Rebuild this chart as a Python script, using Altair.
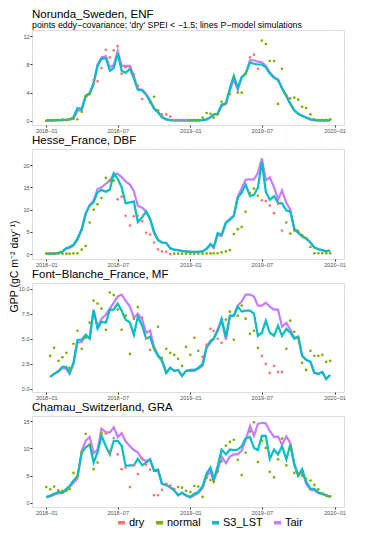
import altair as alt
import pandas as pd

# ---------------- data (dekadal: 1st, 11th, 21st of each month) ----------------
MONTHS = [f"{y}-{m:02d}" for y in (2018, 2019) for m in range(1, 13)]
DAYS = ["01", "11", "21"]
DATES = [f"{mo}-{d}T00:00:00" for mo in MONTHS for d in DAYS]

SERIES = ["dry", "normal", "S3_LST", "Tair"]
COLORS = ["#F8766D", "#7CAE00", "#00BFC4", "#C77CFF"]

# Norunda_Sweden, ENF
nor_obs = [0.0, 0.0, 0.1, 0.1, 0.2, 0.1, 0.2, 0.3, 0.2, 1.3, 3.5, 3.8,
           5.8, 5.6, 7.5, 10.1, 9.0, 10.0, 10.6, 6.7, 7.6, 7.6, 6.6, 5.0,
           3.1, 3.7, 2.6, 3.4, 1.5, 0.9, 0.9, 0.6, 0.1, 0.1, 0.1, 0.1,
           0.1, 0.1, 0.1, 0.45, 1.1, 1.0, 0.45, 0.9, 2.7, 2.5, 3.8, 6.0,
           4.0, 4.0, 6.7, 9.0, 9.4, 7.4, 11.4, 10.9, 8.5, 8.5, 2.4, 7.4,
           3.6, 3.2, 3.3, 3.0, 2.0, 1.8, 0.9, 0.2, 0.1, 0.1, 0.1, 0.2]
nor_cls = "nnnnnnnnnnnn" "dddddddddddddd" "nnn" "ddddddd" "nnnnnnnnnnnnnnn" "ddd" "nnnnnnnnnnnnnnnnnn"
nor_s3 = [0.05, 0.05, 0.05, 0.1, 0.1, 0.15, 0.2, 0.5, 1.8, 1.7, 3.6, 3.9,
          5.4, 7.8, 8.8, 8.9, 7.1, 7.5, 9.6, 7.1, 6.8, 7.4, 6.0, 4.4,
          4.3, 3.7, 2.8, 1.7, 1.2, 0.5, 0.2, 0.1, 0.05, 0.05, 0.05, 0.05,
          0.05, 0.05, 0.05, 0.1, 0.2, 0.5, 0.9, 1.0, 2.3, 2.5, 4.6, 6.4,
          4.7, 6.2, 6.7, 8.3, 8.1, 8.0, 8.0, 7.6, 6.7, 6.1, 5.8, 4.6,
          3.5, 2.4, 1.5, 1.0, 0.7, 0.45, 0.2, 0.1, 0.05, 0.05, 0.05, 0.05]
nor_tair = [0.05, 0.05, 0.05, 0.1, 0.1, 0.15, 0.2, 0.3, 1.4, 1.6, 3.4, 3.8,
            5.2, 8.0, 9.0, 9.2, 7.6, 7.9, 9.9, 7.8, 7.8, 7.8, 6.3, 4.5,
            4.4, 3.8, 2.9, 1.8, 1.3, 0.6, 0.2, 0.1, 0.05, 0.05, 0.05, 0.05,
            0.05, 0.05, 0.05, 0.1, 0.2, 0.5, 0.9, 1.0, 2.1, 2.4, 4.3, 5.9,
            4.4, 6.2, 6.7, 8.6, 8.6, 8.4, 8.3, 7.8, 6.9, 6.2, 5.9, 4.7,
            3.6, 2.5, 1.5, 1.0, 0.7, 0.45, 0.2, 0.1, 0.05, 0.05, 0.05, 0.05]

# Hesse_France, DBF
hes_obs = [0.1, 0.1, 0.1, 0.1, 0.1, 0.1, 0.1, 0.15, 0.15, 1.0, 1.8, 7.1,
           10.0, 11.2, 12.6, 17.1, 16.5, 16.5, 12.3, 12.9, 8.6, 6.4, 8.5, 8.6,
           7.4, 4.8, 4.4, 2.6, 1.1, 0.6, 0.5, 0.0, 0.1, 0.1, 0.1, 0.1,
           0.1, 0.1, 0.1, 0.1, 0.15, 0.15, 0.2, 0.2, 0.4, 0.6, 0.9, 4.5,
           5.6, 6.1, 9.5, 13.7, 14.7, 13.1, 12.1, 11.9, 10.9, 9.2, 11.3, 5.3,
           7.1, 4.6, 5.3, 5.2, 4.3, 3.6, 1.6, 0.2, 0.2, 0.2, 0.2, 0.2]
hes_cls = "nnnnnnnnnnnnnnnnnn" "dddddddddddddd" "nnnnnnnnnnnnnnnnnnnnnn" "dddddd" "nnnnnnnnnnnn"
hes_s3 = [0.1, 0.1, 0.1, 0.3, 0.6, 1.4, 1.6, 2.1, 3.5, 5.7, 9.2, 10.9,
          11.6, 13.9, 14.4, 14.0, 14.5, 18.1, 16.9, 15.0, 11.4, 11.6, 11.8, 7.2,
          8.3, 9.6, 7.9, 4.9, 3.1, 2.6, 2.5, 1.3, 1.0, 0.9, 0.7, 0.6,
          0.5, 0.5, 0.5, 0.6, 1.2, 2.3, 1.6, 4.7, 4.4, 7.1, 7.7, 8.6,
          12.7, 13.8, 15.6, 13.0, 13.3, 14.9, 20.7, 14.0, 12.2, 13.0, 11.5, 11.4,
          9.8, 9.6, 5.6, 4.8, 4.0, 3.5, 2.6, 1.5, 1.1, 0.9, 0.6, 0.8]
hes_tair = [0.1, 0.1, 0.1, 0.2, 0.5, 1.2, 1.4, 1.9, 3.2, 5.4, 9.0, 11.0,
            12.0, 14.6, 15.0, 15.8, 16.5, 18.0, 18.0, 17.3, 16.3, 15.6, 14.1, 10.8,
            10.4, 9.6, 7.9, 5.0, 3.2, 2.6, 2.5, 1.3, 1.0, 0.9, 0.7, 0.6,
            0.5, 0.5, 0.5, 0.6, 1.1, 2.1, 1.4, 4.3, 4.1, 7.0, 7.9, 8.6,
            12.9, 14.8, 16.7, 16.8, 16.8, 18.2, 21.5, 16.6, 17.2, 15.0, 12.3, 14.3,
            11.5, 10.0, 5.8, 4.9, 4.0, 3.5, 2.6, 1.5, 1.1, 0.9, 0.6, 0.8]

# Font-Blanche_France, MF
fb_obs = [None, 3.3, 4.1, 2.8, 3.15, 3.6, 2.1, 4.5, 5.8, 4.0, 5.1, 6.6,
          8.8, 8.5, 8.0, 5.9, 9.6, 9.35, 7.9, 5.9, 7.3, 3.5, 7.0, 8.15,
          7.1, 5.1, 3.9, 4.1, 6.2, 3.1, 4.0, 3.6, 3.4, 3.0, 2.3, 4.2,
          3.4, 5.1, 3.8, 3.2, 4.4, 6.0, 5.8, 5.0, 4.6, 6.9, 7.7, 4.9,
          7.3, 8.3, 7.0, 5.5, 5.8, 4.1, 3.3, 2.5, 1.6, 2.3, 1.7, 1.7,
          4.0, 6.8, 5.7, 5.1, 2.6, 1.9, 3.8, 3.3, 3.3, 3.4, 2.7, 2.8]
fb_cls = "-" "nnnnnnnnnnnnnnnnnnnnnnn" "ddd" "nnnnnnnnnnnn" "dddddd" "nnnnnnnnn" "dddddd" "nnnnnnnnnnnn"
fb_s3 = [None, 1.2, 1.5, 1.8, 2.2, 2.2, 1.6, 2.6, 4.9, 4.9, 5.4, 5.0,
         7.8, 6.0, 6.7, 6.6, 7.9, 7.9, 8.5, 7.8, 6.9, 6.6, 5.4, 7.2,
         6.3, 5.0, 5.2, 4.0, 3.3, 2.8, 1.6, 2.1, 1.8, 1.9, 1.3, 1.8,
         1.9, 1.9, 2.1, 2.5, 4.2, 4.8, 5.0, 5.8, 7.0, 5.2, 7.3, 7.3,
         8.2, 7.7, 7.8, 7.8, 7.5, 5.3, 5.6, 6.8, 5.6, 5.3, 6.3, 5.3,
         6.0, 5.6, 5.0, 5.2, 3.3, 2.9, 2.7, 1.6, 1.5, 1.7, 1.0, 1.4]
fb_tair = [None, 1.2, 1.5, 1.7, 2.1, 2.0, 1.5, 2.5, 4.6, 4.7, 5.3, 5.1,
           7.9, 6.2, 7.0, 7.4, 8.0, 8.6, 9.2, 9.4, 8.8, 8.2, 7.1, 7.5,
           6.9, 5.6, 5.8, 4.2, 3.4, 2.9, 1.6, 2.1, 1.8, 1.9, 1.3, 1.8,
           1.8, 1.8, 2.0, 2.3, 4.1, 4.6, 5.0, 5.9, 6.8, 4.9, 7.2, 7.3,
           8.3, 8.7, 9.4, 9.4, 9.2, 8.3, 8.3, 8.6, 8.2, 7.9, 7.9, 6.2,
           6.6, 5.9, 5.1, 5.2, 3.3, 2.9, 2.7, 1.6, 1.5, 1.7, 1.0, 1.4]

# Chamau_Switzerland, GRA
cha_obs = [2.9, 2.5, 3.0, 2.3, 2.2, 2.2, 2.5, 5.5, 4.9, 9.3, 12.7, 10.7,
           6.2, 7.4, 12.8, 12.7, 9.5, 11.9, 8.9, 6.2, 6.5, 2.9, 6.9, 5.3,
           8.2, 7.0, 6.1, 1.4, 1.4, 2.4, 3.5, 3.2, 2.6, 2.9, 2.8, 2.2,
           2.0, 3.1, 3.0, 1.1, 4.6, 4.2, 3.9, 5.8, 7.6, 10.5, 11.2, 11.6,
           7.9, 5.1, 9.2, 13.1, 14.8, 7.5, 11.4, 10.1, 5.7, 4.7, 8.0, 11.8,
           6.9, 9.8, 5.5, 5.4, 5.0, 4.4, 4.1, 3.3, 2.5, 1.7, 1.3, 1.2]
cha_cls = "nnnnnnnnnnnnnnn" "dddddddddddddddddd" "nnnnnnnnnnnnnnnnnnnnnnnnnnnnnnnnnnnnnnn"
cha_s3 = [1.1, 1.3, 1.7, 2.0, 1.9, 2.6, 3.1, 4.1, 4.9, 9.3, 10.2, 10.7,
          7.4, 9.3, 12.3, 10.4, 8.9, 11.4, 11.4, 10.5, 6.8, 6.9, 6.9, 8.1,
          6.9, 7.4, 8.0, 5.9, 6.1, 3.5, 3.3, 2.9, 2.3, 1.4, 1.9, 1.4,
          1.1, 1.7, 2.0, 3.1, 5.4, 6.5, 4.3, 6.7, 9.8, 8.9, 9.8, 9.7,
          9.8, 10.4, 11.9, 12.1, 10.1, 9.7, 12.3, 12.3, 8.1, 9.8, 8.9, 10.4,
          8.0, 10.7, 7.1, 5.0, 6.2, 3.9, 2.6, 2.6, 1.9, 1.7, 1.4, 1.1]
cha_tair = [1.0, 1.2, 1.5, 1.8, 1.8, 2.4, 2.9, 3.7, 4.5, 9.6, 11.4, 12.1,
            9.1, 9.8, 13.6, 13.0, 12.9, 13.9, 12.1, 12.8, 11.3, 10.4, 9.7, 9.3,
            8.0, 7.7, 8.0, 5.9, 6.1, 3.5, 3.3, 2.8, 2.3, 1.4, 1.8, 1.3,
            1.0, 1.4, 1.8, 2.7, 4.9, 5.8, 4.0, 5.9, 8.5, 7.3, 8.5, 8.9,
            8.9, 9.6, 11.5, 14.1, 12.3, 14.5, 14.7, 14.6, 13.2, 12.1, 12.2, 10.7,
            12.2, 11.0, 7.2, 5.0, 5.9, 3.6, 2.4, 2.3, 1.8, 1.6, 1.4, 1.1]

X_MAJOR = [(2018, 1), (2018, 7), (2019, 1), (2019, 7), (2020, 1)]
X_MINOR = ["2018-04-01T00:00:00", "2018-10-01T00:00:00", "2019-04-01T00:00:00", "2019-10-01T00:00:00"]

PANELS = [
    dict(title="Norunda_Sweden, ENF",
         subtitle="points eddy\u2212covariance; 'dry' SPEI < \u22121.5; lines P\u2212model simulations",
         obs=nor_obs, cls=nor_cls, s3=nor_s3, tair=nor_tair,
         ydom=[-0.6, 12.9], yticks=[0, 4, 8, 12], yminor=[2, 6, 10], yfmt="d", height=95),
    dict(title="Hesse_France, DBF", subtitle=None,
         obs=hes_obs, cls=hes_cls, s3=hes_s3, tair=hes_tair,
         ydom=[-1.1, 23.6], yticks=[0, 5, 10, 15, 20], yminor=[2.5, 7.5, 12.5, 17.5, 22.5], yfmt="d", height=110),
    dict(title="Font\u2212Blanche_France, MF", subtitle=None,
         obs=fb_obs, cls=fb_cls, s3=fb_s3, tair=fb_tair,
         ydom=[-0.3, 10.55], yticks=[0, 2.5, 5, 7.5, 10], yminor=[1.25, 3.75, 6.25, 8.75], yfmt=".1f", height=109),
    dict(title="Chamau_Switzerland, GRA", subtitle=None,
         obs=cha_obs, cls=cha_cls, s3=cha_s3, tair=cha_tair,
         ydom=[-0.75, 15.95], yticks=[0, 5, 10, 15], yminor=[2.5, 7.5, 12.5], yfmt="d", height=91),
]

WIDTH = 312
SPACING = 24
FONT = "Liberation Sans"
YTITLE = "GPP (gC m\u207b\u00b2 day\u207b\u00b9)"

legend = alt.Legend(title=None, orient="none", legendX=84, legendY=101, direction="horizontal",
                    symbolType="stroke", symbolStrokeWidth=3.5, symbolSize=50,
                    labelFontSize=11, labelFont=FONT, labelColor="black",
                    columnPadding=3, labelOffset=2)

xscale = alt.Scale(domain=[alt.DateTime(year=2017, month=11, date=26),
                           alt.DateTime(year=2020, month=1, date=25)])
xaxis = alt.Axis(values=[alt.DateTime(year=y, month=m, date=1) for y, m in X_MAJOR],
                 format="%Y\u2212%m", labelFontSize=5.5, labelFont=FONT, labelColor="#4D4D4D",
                 tickColor="#333333", tickSize=2, labelPadding=1, domain=False,
                 grid=True, gridColor="white", gridWidth=0.9, title=None)


def build_panel(i, p):
    cscale = alt.Scale(domain=SERIES, range=COLORS)
    leg = legend if i == 3 else None
    pts = pd.DataFrame([
        {"date": d, "gpp": v, "series": "dry" if c == "d" else "normal"}
        for d, v, c in zip(DATES, p["obs"], p["cls"]) if v is not None
    ])
    lines = pd.DataFrame(
        [{"date": d, "gpp": v, "series": "Tair"} for d, v in zip(DATES, p["tair"]) if v is not None]
        + [{"date": d, "gpp": v, "series": "S3_LST"} for d, v in zip(DATES, p["s3"]) if v is not None]
    )
    yscale = alt.Scale(domain=p["ydom"], nice=False, zero=False)
    ax_kw = dict(values=p["yticks"], format=p["yfmt"], labelFontSize=5.5, labelFont=FONT,
                 labelColor="#4D4D4D", tickColor="#333333", tickSize=2, labelPadding=1,
                 domain=False, grid=True, gridColor="white", gridWidth=0.9)
    if i == 1:
        yaxis = alt.Axis(title=YTITLE, titleFontSize=10.5, titleFont=FONT, titleFontWeight="normal",
                         titleColor="black", titleX=-13, titleY=117, titleAlign="center",
                         titleBaseline="bottom", **ax_kw)
    else:
        yaxis = alt.Axis(title=None, **ax_kw)
    ytitle = YTITLE if i == 1 else None

    x_enc = alt.X("date:T", scale=xscale, axis=xaxis, title=None)
    y_enc = alt.Y("gpp:Q", scale=yscale, axis=yaxis, title=ytitle)

    minor_x = alt.Chart(pd.DataFrame({"date": X_MINOR})).mark_rule(
        color="white", strokeWidth=0.45).encode(x=x_enc)
    minor_y = alt.Chart(pd.DataFrame({"gpp": p["yminor"]})).mark_rule(
        color="white", strokeWidth=0.45).encode(y=y_enc)
    tair = alt.Chart(lines).transform_filter(alt.datum.series == "Tair").mark_line(
        strokeWidth=2.2).encode(x=x_enc, y=y_enc,
                                color=alt.Color("series:N", scale=cscale, legend=leg))
    s3 = alt.Chart(lines).transform_filter(alt.datum.series == "S3_LST").mark_line(
        strokeWidth=2.2).encode(x=x_enc, y=y_enc,
                                color=alt.Color("series:N", scale=cscale, legend=leg))
    points = alt.Chart(pts).mark_circle(size=7, opacity=1).encode(
        x=x_enc, y=y_enc, color=alt.Color("series:N", scale=cscale, legend=None))

    tkw = dict(anchor="start", frame="group", fontSize=11.5, font=FONT, fontWeight="normal",
               color="black")
    if p["subtitle"]:
        title = alt.TitleParams(text=p["title"], subtitle=p["subtitle"], subtitleFontSize=8.8,
                                subtitleFont=FONT, subtitleColor="black", subtitlePadding=0,
                                offset=0, **tkw)
    else:
        title = alt.TitleParams(text=p["title"], offset=2, **tkw)

    return alt.layer(minor_x, minor_y, tair, s3, points).properties(
        width=WIDTH, height=p["height"], title=title)


charts = [build_panel(i, p) for i, p in enumerate(PANELS)]

chart = alt.vconcat(*charts, spacing=SPACING, bounds="flush").resolve_scale(
    color="independent", x="independent", y="independent"
).configure_view(fill="#EBEBEB", stroke=None).configure(background="white", padding=0)

chart.save("out.html", embed_options={"renderer": "svg", "actions": False})
